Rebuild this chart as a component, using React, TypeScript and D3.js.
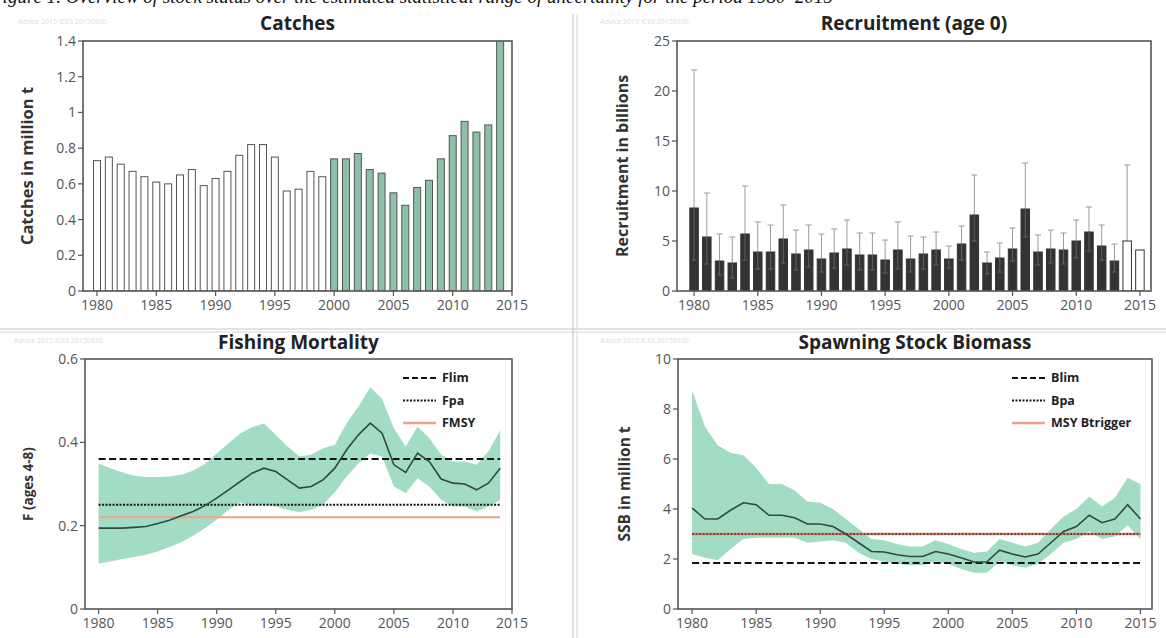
import React from "react";
import * as d3 from "d3";

// ---------- data ----------
const years = [1980,1981,1982,1983,1984,1985,1986,1987,1988,1989,1990,1991,1992,1993,1994,1995,1996,1997,1998,1999,2000,2001,2002,2003,2004,2005,2006,2007,2008,2009,2010,2011,2012,2013,2014];
const yearsTo2015 = [...years, 2015];

const catches = [0.73,0.75,0.71,0.67,0.64,0.61,0.60,0.65,0.68,0.59,0.63,0.67,0.76,0.82,0.82,0.75,0.56,0.57,0.67,0.64,0.74,0.74,0.77,0.68,0.66,0.55,0.48,0.58,0.62,0.74,0.87,0.95,0.89,0.93,1.40];
const catchesShadedFrom = 2000;

const recruitment = [8.3,5.4,3.0,2.8,5.7,3.9,3.9,5.2,3.7,4.1,3.2,3.8,4.2,3.6,3.6,3.1,4.1,3.2,3.7,4.1,3.2,4.7,7.6,2.8,3.3,4.2,8.2,3.9,4.2,4.1,5.0,5.9,4.5,3.0,5.0,4.1];
const recruitHigh = [22.1,9.8,5.7,5.4,10.5,6.9,6.6,8.6,6.1,6.6,5.7,6.2,7.1,5.8,5.8,5.1,6.9,5.5,5.4,5.9,4.5,6.5,11.6,3.9,4.8,6.3,12.8,5.6,6.1,5.8,7.1,8.4,6.6,4.7,12.6,null];
const recruitLow = [3.1,2.7,1.6,1.3,3.1,2.2,2.2,2.8,2.1,2.4,1.9,2.3,2.6,2.1,2.1,1.8,2.2,1.9,2.2,2.6,2.3,3.1,5.0,1.7,1.9,3.0,5.4,2.6,2.8,2.7,3.3,4.0,3.1,1.9,2.7,null];
const recruitAssumedFrom = 2014;

const fMean = [0.194,0.194,0.194,0.196,0.198,0.205,0.213,0.224,0.234,0.248,0.266,0.286,0.306,0.326,0.338,0.330,0.310,0.290,0.294,0.310,0.338,0.382,0.418,0.446,0.422,0.346,0.328,0.374,0.354,0.312,0.302,0.300,0.286,0.302,0.338];
const fHigh = [0.349,0.338,0.328,0.320,0.317,0.317,0.318,0.322,0.332,0.348,0.373,0.398,0.421,0.437,0.445,0.418,0.390,0.366,0.370,0.386,0.394,0.446,0.486,0.532,0.504,0.434,0.390,0.438,0.410,0.370,0.354,0.354,0.346,0.378,0.429];
const fLow = [0.109,0.114,0.120,0.125,0.130,0.138,0.149,0.160,0.176,0.194,0.214,0.238,0.256,0.248,0.250,0.246,0.238,0.232,0.238,0.250,0.280,0.318,0.349,0.373,0.366,0.294,0.278,0.314,0.294,0.262,0.246,0.246,0.234,0.246,0.261];

const ssb = [4.04,3.6,3.6,3.95,4.25,4.17,3.75,3.75,3.65,3.4,3.4,3.3,3.0,2.65,2.3,2.28,2.17,2.1,2.1,2.3,2.2,2.05,1.88,1.88,2.35,2.2,2.08,2.2,2.65,3.1,3.3,3.75,3.45,3.6,4.17,3.6];
const ssbHigh = [8.75,7.3,6.55,6.25,6.15,5.65,5.0,5.0,4.75,4.3,4.25,4.0,3.6,3.2,2.8,2.75,2.6,2.5,2.5,2.75,2.6,2.4,2.25,2.3,2.8,2.65,2.5,2.65,3.2,3.7,4.0,4.5,4.1,4.45,5.25,5.0];
const ssbLow = [2.2,2.05,1.95,2.4,2.8,2.85,2.85,2.85,2.85,2.65,2.7,2.75,2.65,2.25,2.0,1.9,1.8,1.75,1.75,1.9,1.8,1.6,1.45,1.45,1.9,1.75,1.65,1.8,2.2,2.65,2.8,3.1,2.8,2.9,3.35,2.8];

const refF = { Flim: 0.36, Fpa: 0.25, FMSY: 0.22 };
const refB = { Blim: 1.84, Bpa: 3.0, MSYBtrigger: 3.0 };

const xTicks = [1980,1985,1990,1995,2000,2005,2010,2015];
const catchTicks = [0,0.2,0.4,0.6,0.8,1,1.2,1.4];
const recruitTicks = [0,5,10,15,20,25];
const fTicks = [0,0.2,0.4,0.6];
const ssbTicks = [0,2,4,6,8,10];

const captionText = "Figure 1. Overview of stock status over the estimated statistical range of uncertainty for the period 1980–2015";

// ---------- styles ----------
const FONT = "'Open Sans', 'DejaVu Sans', sans-serif";
const TICK_COLOR = "#555";
const FRAME_COLOR = "#555";
const BAND = "#a3dcc5";
const LINE = "#2e4a42";
const BAR_GREEN = "#8dbfa9";
const SALMON = "#f2a08c";

type PanelProps = {
  left: number; right: number; top: number; bottom: number;
  xDom: [number, number]; yDom: [number, number];
  yTicks: number[]; title: string; titleY: number;
  yLabel: string; yLabelX: number; yLabelSize: number;
  children: (xs: d3.ScaleLinear<number, number>, ys: d3.ScaleLinear<number, number>) => React.ReactNode;
};

function Panel(p: PanelProps) {
  const xs = d3.scaleLinear().domain(p.xDom).range([p.left, p.right]);
  const ys = d3.scaleLinear().domain(p.yDom).range([p.bottom, p.top]);
  const cx = (p.left + p.right) / 2;
  const cy = (p.top + p.bottom) / 2;
  return (
    <g>
      <defs>
        <clipPath id={`clip-${p.left}-${p.top}`}>
          <rect x={p.left} y={p.top} width={p.right - p.left} height={p.bottom - p.top} />
        </clipPath>
      </defs>
      <g clipPath={`url(#clip-${p.left}-${p.top})`}>{p.children(xs, ys)}</g>
      <rect x={p.left} y={p.top} width={p.right - p.left} height={p.bottom - p.top}
        fill="none" stroke={FRAME_COLOR} strokeWidth={1.6} />
      {p.yTicks.map((t) => (
        <g key={"y" + t}>
          <line x1={p.left - 5} x2={p.left} y1={ys(t)} y2={ys(t)} stroke={TICK_COLOR} strokeWidth={1.2} />
          <text x={p.left - 7} y={ys(t)} dy="0.36em" textAnchor="end" fontSize={14}
            fill={TICK_COLOR} fontFamily={FONT}>{String(t)}</text>
        </g>
      ))}
      {xTicks.map((t) => (
        <g key={"x" + t}>
          <line x1={xs(t)} x2={xs(t)} y1={p.bottom} y2={p.bottom + 5} stroke={TICK_COLOR} strokeWidth={1.2} />
          <text x={xs(t)} y={p.bottom + 19} textAnchor="middle" fontSize={14}
            fill={TICK_COLOR} fontFamily={FONT}>{t}</text>
        </g>
      ))}
      <text x={cx} y={p.titleY} textAnchor="middle" fontSize={19} fontWeight={700}
        fill="#222" fontFamily={FONT}>{p.title}</text>
      <text transform={`translate(${p.yLabelX},${cy}) rotate(-90)`} textAnchor="middle"
        fontSize={p.yLabelSize} fontWeight={700} fill="#333" fontFamily={FONT}>{p.yLabel}</text>
    </g>
  );
}

function Legend({ x, y, labels }: { x: number; y: number; labels: string[] }) {
  const styles = [
    { stroke: "#111", dash: "6,3", w: 2.2 },
    { stroke: "#111", dash: "2,1.5", w: 2 },
    { stroke: SALMON, dash: undefined, w: 2.5 },
  ];
  return (
    <g>
      {labels.map((l, i) => (
        <g key={l}>
          <line x1={x} x2={x + 33} y1={y + i * 22.5} y2={y + i * 22.5}
            stroke={styles[i].stroke} strokeDasharray={styles[i].dash} strokeWidth={styles[i].w} />
          <text x={x + 39} y={y + i * 22.5} dy="0.35em" fontSize={12.5} fontWeight={700}
            fill="#222" fontFamily="'Liberation Sans Narrow', 'Open Sans', sans-serif">{l}</text>
        </g>
      ))}
    </g>
  );
}

export default function App() {
  return (
    <svg width={1166} height={638} style={{ display: "block", position: "absolute", left: 0, top: 0, background: "#fff" }}>
      <rect x={0} y={0} width={1166} height={638} fill="#fff" />
      {/* caption, cut off at the top edge as in the source image */}
      <text x={-9} y={3} fontSize={19} fontStyle="italic" fontFamily="'Liberation Serif', 'DejaVu Serif', serif" fill="#111">{captionText}</text>

      {/* panel separators */}
      <line x1={0} x2={1166} y1={329} y2={329} stroke="#c8c8c8" strokeWidth={1.2} />
      <line x1={0} x2={1166} y1={332} y2={332} stroke="#d8d8d8" strokeWidth={1} />
      <line x1={573} x2={573} y1={14} y2={638} stroke="#c8c8c8" strokeWidth={1.2} />
      <line x1={577} x2={577} y1={14} y2={638} stroke="#d8d8d8" strokeWidth={1} />

      {/* faint watermarks */}
      {[[18, 24], [600, 24], [14, 343], [600, 343]].map(([x, y], i) => (
        <text key={i} x={x} y={y} fontSize={7} fill="#dcdcdc" fontFamily={FONT}>Advice 2015 ICES 20150930</text>
      ))}

      {/* Catches */}
      <Panel left={83} right={512} top={41} bottom={291} xDom={[1978.82, 2015]} yDom={[0, 1.4]}
        yTicks={catchTicks} title="Catches" titleY={30} yLabel="Catches in million t" yLabelX={33} yLabelSize={16.5}>
        {(xs, ys) => (
          <g>
            {years.map((yr, i) => {
              const w = 7;
              return (
                <rect key={yr} x={xs(yr) - w / 2} y={ys(catches[i])} width={w} height={ys(0) - ys(catches[i])}
                  fill={yr >= catchesShadedFrom ? BAR_GREEN : "#fff"} stroke="#555" strokeWidth={1} />
              );
            })}
          </g>
        )}
      </Panel>

      {/* Recruitment */}
      <Panel left={677} right={1151} top={41} bottom={291} xDom={[1978.66, 2015.87]} yDom={[0, 25]}
        yTicks={recruitTicks} title="Recruitment (age 0)" titleY={30} yLabel="Recruitment in billions" yLabelX={628} yLabelSize={16}>
        {(xs, ys) => (
          <g>
            {yearsTo2015.map((yr, i) => {
              const w = 8.5;
              const x = xs(yr);
              const hi = recruitHigh[i];
              const lo = recruitLow[i];
              const assumed = yr >= recruitAssumedFrom;
              return (
                <g key={yr}>
                  {hi != null && (
                    <g>
                      <line x1={x} x2={x} y1={ys(recruitment[i])} y2={ys(hi)} stroke="#9a9a9a" strokeWidth={1} />
                      <line x1={x - 3} x2={x + 3} y1={ys(hi)} y2={ys(hi)} stroke="#9a9a9a" strokeWidth={1} />
                    </g>
                  )}
                  <rect x={x - w / 2} y={ys(recruitment[i])} width={w} height={ys(0) - ys(recruitment[i])}
                    fill={assumed ? "#fff" : "#333"} stroke="#333" strokeWidth={1} />
                  {lo != null && !assumed && (
                    <g opacity={0.45}>
                      <line x1={x} x2={x} y1={ys(recruitment[i])} y2={ys(lo)} stroke="#999" strokeWidth={1} />
                      <line x1={x - 2.5} x2={x + 2.5} y1={ys(lo)} y2={ys(lo)} stroke="#999" strokeWidth={1} />
                    </g>
                  )}
                </g>
              );
            })}
          </g>
        )}
      </Panel>

      {/* Fishing mortality */}
      <Panel left={85} right={512} top={359} bottom={609} xDom={[1978.85, 2015]} yDom={[0, 0.6]}
        yTicks={fTicks} title="Fishing Mortality" titleY={349} yLabel="F (ages 4-8)" yLabelX={33} yLabelSize={13.5}>
        {(xs, ys) => {
          const area = d3.area<number>().x((d) => xs(d)).y0((_, i) => ys(fLow[i])).y1((_, i) => ys(fHigh[i]));
          const line = d3.line<number>().x((d) => xs(d)).y((_, i) => ys(fMean[i]));
          const x0 = xs(years[0]);
          const x1 = xs(years[years.length - 1]);
          return (
            <g>
              <path d={area(years) || ""} fill={BAND} />
              <line x1={x0} x2={x1} y1={ys(refF.FMSY)} y2={ys(refF.FMSY)} stroke={SALMON} strokeWidth={2} />
              <line x1={x0} x2={x1} y1={ys(refF.Fpa)} y2={ys(refF.Fpa)} stroke="#111" strokeWidth={2} strokeDasharray="2,1.5" />
              <line x1={x0} x2={x1} y1={ys(refF.Flim)} y2={ys(refF.Flim)} stroke="#111" strokeWidth={2.2} strokeDasharray="7,3.5" />
              <path d={line(years) || ""} fill="none" stroke={LINE} strokeWidth={1.6} />
            </g>
          );
        }}
      </Panel>
      <Legend x={403} y={378} labels={["Flim", "Fpa", "FMSY"]} />

      {/* SSB */}
      <Panel left={678} right={1152} top={359} bottom={609} xDom={[1978.9, 2015.9]} yDom={[0, 10]}
        yTicks={ssbTicks} title="Spawning Stock Biomass" titleY={349} yLabel="SSB in million t" yLabelX={630} yLabelSize={15.5}>
        {(xs, ys) => {
          const area = d3.area<number>().x((d) => xs(d)).y0((_, i) => ys(ssbLow[i])).y1((_, i) => ys(ssbHigh[i]));
          const line = d3.line<number>().x((d) => xs(d)).y((_, i) => ys(ssb[i]));
          const x0 = xs(yearsTo2015[0]);
          const x1 = xs(yearsTo2015[yearsTo2015.length - 1]);
          return (
            <g>
              <path d={area(yearsTo2015) || ""} fill={BAND} />
              <line x1={x0} x2={x1} y1={ys(refB.MSYBtrigger)} y2={ys(refB.MSYBtrigger)} stroke="#e8846a" strokeWidth={2.5} />
              <line x1={x0} x2={x1} y1={ys(refB.Bpa)} y2={ys(refB.Bpa)} stroke="#333" strokeWidth={1.6} strokeDasharray="2,1.5" />
              <line x1={x0} x2={x1} y1={ys(refB.Blim)} y2={ys(refB.Blim)} stroke="#111" strokeWidth={2.2} strokeDasharray="7,3.5" />
              <path d={line(yearsTo2015) || ""} fill="none" stroke={LINE} strokeWidth={1.6} />
            </g>
          );
        }}
      </Panel>
      <Legend x={1012} y={378} labels={["Blim", "Bpa", "MSY Btrigger"]} />
    </svg>
  );
}
